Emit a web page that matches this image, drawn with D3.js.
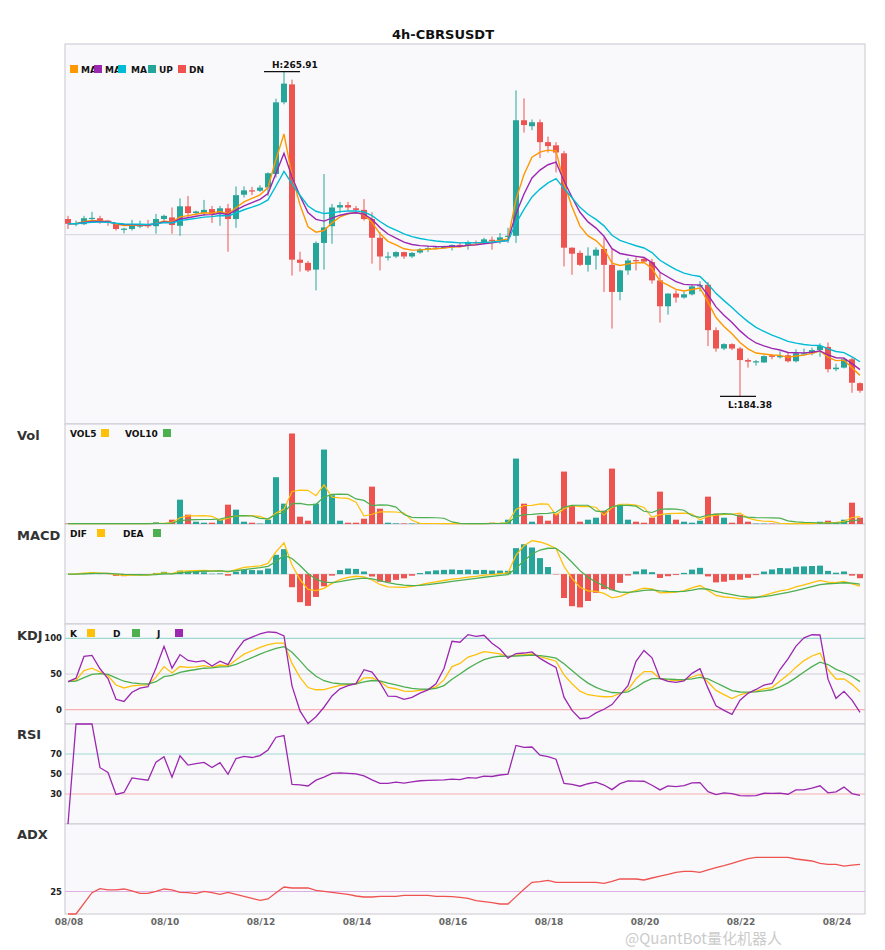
<!DOCTYPE html>
<html><head><meta charset="utf-8">
<script src="https://cdn.jsdelivr.net/npm/d3@7"></script>
<style>body{margin:0;background:#fff}svg{font-family:"DejaVu Sans",sans-serif}</style>
</head><body><svg id="c" width="885" height="950"></svg>
<script>
const title = "4h-CBRSUSDT";
const open = [228.9,227.6,227.6,229.0,229.1,228.5,227.7,226.3,226.4,227.2,227.4,227.1,228.9,229.3,227.2,232.1,230.4,230.4,231.4,230.2,231.6,228.9,235.0,236.1,236.0,236.8,240.2,258.2,262.7,218.7,217.9,216.2,222.9,227.1,231.8,232.4,231.6,231.2,228.9,224.2,219.4,219.5,220.6,219.5,220.5,221.5,221.6,221.7,221.8,222.4,222.4,223.1,223.0,223.7,223.5,224.5,224.7,253.7,252.2,253.2,248.2,247.4,245.4,221.7,220.4,217.4,219.7,221.4,217.4,210.6,216.0,218.6,218.9,218.1,213.5,207.0,210.2,209.2,210.0,212.1,212.4,201.0,196.4,197.5,196.4,193.5,193.0,192.9,194.7,194.4,194.7,193.2,195.1,195.2,196.0,196.8,191.2,191.6,193.7,187.7];
const high = [229.7,228.5,229.7,230.7,229.7,228.7,227.9,226.7,228.7,228.5,228.7,230.2,230.0,231.8,234.1,234.7,231.0,233.7,232.2,232.2,232.7,237.1,237.1,237.0,237.4,240.6,259.1,265.91,263.9,220.7,218.4,223.3,240.2,232.7,233.2,233.2,232.2,233.9,230.6,225.6,220.6,220.8,220.7,220.6,221.6,222.2,222.1,222.2,222.5,223.1,223.5,223.5,224.2,224.5,225.4,226.7,261.2,259.2,253.9,253.9,249.6,248.2,246.0,221.8,221.0,221.8,221.8,224.3,221.4,216.2,219.1,219.6,219.4,218.9,215.4,210.2,211.0,210.7,212.5,213.3,213.1,201.7,197.7,197.7,196.8,193.9,193.5,194.7,195.0,195.7,195.4,196.2,196.4,196.6,197.7,197.9,192.6,194.1,194.1,187.9];
const low = [226.4,227.1,227.4,228.5,227.7,227.2,226.0,225.3,226.0,226.6,226.6,225.2,228.5,225.2,224.7,229.3,230.0,229.7,227.9,227.2,220.7,226.7,234.3,234.9,235.7,234.7,239.3,257.7,214.7,215.7,215.6,211.0,216.2,222.7,230.4,231.0,230.6,228.5,217.7,216.0,218.5,219.1,218.9,219.1,220.2,220.6,221.2,221.5,221.0,221.8,221.2,222.4,222.7,221.2,222.7,222.9,222.9,250.6,251.2,244.2,245.6,240.6,217.0,214.9,217.1,215.7,216.2,210.6,201.4,208.5,214.9,216.0,218.1,212.7,202.9,204.9,207.9,208.9,209.7,210.7,197.0,195.6,196.0,196.0,184.38,191.6,192.1,192.8,193.7,193.9,192.9,192.9,194.7,194.7,194.3,190.4,190.7,191.4,185.3,185.3];
const close = [227.7,227.9,229.1,229.2,228.2,228.0,226.4,226.5,227.4,227.3,227.2,228.9,229.7,227.4,232.1,230.4,230.8,231.2,230.2,231.6,228.9,234.9,236.1,235.8,236.8,240.4,258.2,262.9,218.7,217.9,216.0,222.9,226.8,231.8,232.4,231.8,231.2,228.9,224.2,219.5,219.5,220.6,219.5,220.4,221.3,221.6,221.7,221.9,222.4,222.0,223.1,222.8,223.8,223.6,224.3,224.7,253.7,252.5,253.2,248.2,247.2,245.6,221.7,220.2,217.4,219.7,221.2,217.4,210.6,216.0,218.5,218.4,218.2,213.5,207.0,210.2,209.2,210.0,212.0,212.3,201.0,196.4,197.5,196.4,193.5,193.1,193.2,194.5,194.3,194.5,193.2,195.2,195.2,196.0,197.0,191.2,191.6,193.7,187.8,185.8];
const volume = [0.4,0.3,0.5,0.3,0.4,0.3,0.5,0.3,0.4,0.3,0.3,1.7,0.6,4.3,24.3,9.3,2.3,1.3,1.3,4.3,19.3,14.3,2.3,1.3,0.4,4.3,46.7,20.3,90.3,7.3,3.3,20.3,74.3,28.7,3.3,1.3,1.3,5.3,37.3,15.3,1.3,0.6,0.5,0.5,0.6,0.4,0.4,0.3,0.5,0.4,0.4,0.3,0.5,1.3,1.0,4.3,65.3,20.3,2.3,8.3,3.3,10.3,52.3,18.3,2.3,4.3,6.3,13.3,55.3,19.3,4.3,2.3,1.3,6.3,32.3,9.3,4.3,2.3,1.3,3.3,27.3,10.3,6.3,1.3,9.3,2.3,0.4,0.4,0.4,0.3,0.4,0.4,0.4,0.5,2.3,3.3,1.3,4.3,21.3,6.3];
const adx = [0,0,11.9,23.7,28.1,26.7,26.7,27.8,25.6,23.0,23.0,25.2,27.8,26.7,24.1,23.7,22.6,25.2,23.7,21.9,24.1,21.9,19.6,17.4,15.2,16.7,23.7,30.0,28.9,28.9,28.9,26.3,25.2,24.1,23.0,21.9,20.0,18.9,18.9,19.6,19.6,19.6,20.7,20.7,20.7,20.7,19.6,19.6,19.3,18.5,17.4,14.8,13.7,12.6,11.1,11.1,19.3,27.4,35.2,35.9,37.4,35.2,35.2,35.2,35.2,35.2,35.2,34.1,36.3,38.9,38.9,38.9,37.8,40.0,42.2,44.1,46.3,47.4,47.4,46.3,48.9,51.5,53.7,56.3,58.9,61.5,63.0,63.0,63.0,63.0,63.0,61.1,60.0,58.9,56.3,55.2,55.2,53.3,54.4,55.2];
const xTickLabels = ["08/08","08/10","08/12","08/14","08/16","08/18","08/20","08/22","08/24"];
const priceRefLevels = [225];
const kdjLevels = [100,50,0];
const rsiLevels = [70,50,30];
const adxLevels = [25];
const maPeriods = [5,8,13];
const volPeriods = [5,10];
const macdParams = [6,13,5];

const UP="#26a69a", DN="#ef5350";
const n = close.length;
const svg = d3.select("#c");
const L=65, R=865;
const panels = {main:[44,424], vol:[424,524], macd:[524,624], kdj:[624,724], rsi:[724,824], adx:[824,914]};

function ema(a, p){const k=2/(p+1); const o=[]; a.forEach((v,i)=>o.push(i===0?v:o[i-1]+k*(v-o[i-1]))); return o;}
function sma(a,p){return a.map((v,i)=>d3.mean(a.slice(Math.max(0,i-p+1),i+1)));}
const maLines = maPeriods.map(p=>ema(close,p));
const volLines = volPeriods.map(p=>sma(volume,p));
const eF=ema(close,macdParams[0]), eS=ema(close,macdParams[1]);
const dif = eF.map((v,i)=>v-eS[i]);
const dea = ema(dif,macdParams[2]);
const hist = dif.map((v,i)=>2*(v-dea[i]));
const K=[],D=[],J=[];
for(let i=0;i<n;i++){
  const s=Math.max(0,i-8);
  const ll=d3.min(low.slice(s,i+1)), hh=d3.max(high.slice(s,i+1));
  const rsv = hh>ll?(close[i]-ll)/(hh-ll)*100:50;
  K.push(i===0?rsv:K[i-1]*2/3+rsv/3);
  D.push(i===0?K[0]:D[i-1]*2/3+K[i]/3);
  J.push(3*K[i]-2*D[i]);
}
const rsi=[0];
{let ng=0,nl=0,den=0;const a=1/14;
 for(let i=1;i<n;i++){const d=close[i]-close[i-1];
  ng=Math.max(d,0)+(1-a)*ng; nl=Math.max(-d,0)+(1-a)*nl; den=1+(1-a)*den;
  const g=ng/den,l=nl/den; rsi.push(g+l>0?100*g/(g+l):50);}
}

const x = d3.scaleBand().domain(d3.range(n)).range([64,864]).paddingInner(0.25).paddingOuter(0.125);
const cx = i=>x(i)+x.bandwidth()/2;
const idx=d3.range(n);

svg.append("text").attr("x",443).attr("y",39).attr("text-anchor","middle").attr("font-size",13).attr("font-weight","bold").attr("fill","#111").text(title);

Object.values(panels).forEach(([t,b])=>{
  svg.append("rect").attr("x",L).attr("y",t).attr("width",R-L).attr("height",b-t).attr("fill","#f9f9fc").attr("stroke","#c8c8d0").attr("stroke-width",1);
});

[["Vol",440],["MACD",540],["KDJ",640],["RSI",739],["ADX",839]].forEach(([t,yy])=>{
  svg.append("text").attr("x",17).attr("y",yy).attr("font-size",13).attr("font-weight","bold").attr("fill","#333").text(t);
});

// main
const lo=d3.min(low), hi=d3.max(high), pad=(hi-lo)*0.085;
const y = d3.scaleLinear().domain([lo-pad,hi+pad]).range([424,44]);
const gm = svg.append("g");
priceRefLevels.forEach(v=>gm.append("line").attr("x1",L).attr("x2",R).attr("y1",y(v)).attr("y2",y(v)).attr("stroke","#dcdce0").attr("stroke-width",1.2));
gm.selectAll(".wick").data(idx).join("line").attr("x1",cx).attr("x2",cx)
  .attr("y1",i=>y(high[i])).attr("y2",i=>y(low[i])).attr("stroke",i=>close[i]>=open[i]?UP:DN).attr("stroke-width",1);
gm.selectAll(".body").data(idx).join("rect").attr("x",i=>x(i)).attr("width",x.bandwidth())
  .attr("y",i=>y(Math.max(open[i],close[i]))).attr("height",i=>Math.max(1.2,Math.abs(y(open[i])-y(close[i]))))
  .attr("fill",i=>close[i]>=open[i]?UP:DN);
const maColors=["#ff9800","#9c27b0","#00bcd4"];
maLines.forEach((arr,k)=>{
  gm.append("path").datum(arr).attr("fill","none").attr("stroke",maColors[k]).attr("stroke-width",1.4)
    .attr("d",d3.line().x((d,i)=>cx(i)).y(d=>y(d)));
});
const hiI=high.indexOf(hi), loI=low.indexOf(lo);
gm.append("line").attr("x1",cx(hiI)-20).attr("x2",cx(hiI)+16).attr("y1",y(hi)).attr("y2",y(hi)).attr("stroke","#111").attr("stroke-width",1.2);
gm.append("text").attr("x",cx(hiI)-12).attr("y",y(hi)-4).attr("font-size",9).attr("font-weight","bold").attr("fill","#111").text("H:"+hi.toFixed(2));
gm.append("line").attr("x1",cx(loI)-20).attr("x2",cx(loI)+16).attr("y1",y(lo)).attr("y2",y(lo)).attr("stroke","#111").attr("stroke-width",1.2);
gm.append("text").attr("x",cx(loI)-12).attr("y",y(lo)+12).attr("font-size",9).attr("font-weight","bold").attr("fill","#111").text("L:"+lo.toFixed(2));
const mainLeg=[["MA",maColors[0],70,81],["MA",maColors[1],94,105],["MA",maColors[2],118,131],["UP",UP,148,159],["DN",DN,178,189]];
mainLeg.forEach(([t,c,sx,tx])=>{
  gm.append("text").attr("x",tx).attr("y",72.5).attr("font-size",9).attr("font-weight","bold").attr("fill","#111").text(t);
  gm.append("rect").attr("x",sx).attr("y",65).attr("width",8).attr("height",8).attr("fill",c);
});

function legend(items, yText){
  items.forEach(([t,c,tx,sx])=>{
    svg.append("text").attr("x",tx).attr("y",yText).attr("font-size",9).attr("font-weight","bold").attr("fill","#111").text(t);
    svg.append("rect").attr("x",sx).attr("y",yText-8).attr("width",8).attr("height",8).attr("fill",c);
  });
}

// volume
const yv=d3.scaleLinear().domain([0,d3.max(volume)*1.105]).range([524,424]);
svg.append("g").selectAll("rect").data(idx).join("rect").attr("x",i=>x(i)).attr("width",x.bandwidth())
  .attr("y",i=>yv(volume[i])).attr("height",i=>524-yv(volume[i])).attr("fill",i=>close[i]>=open[i]?UP:DN);
const volColors=["#ffc107","#4caf50"];
volLines.forEach((arr,k)=>svg.append("path").datum(arr).attr("fill","none").attr("stroke",volColors[k]).attr("stroke-width",1.2)
  .attr("d",d3.line().x((d,i)=>cx(i)).y(d=>yv(d))));
legend([["VOL5",volColors[0],70,101],["VOL10",volColors[1],125,163]],437);

// MACD
const allM=dif.concat(dea,hist);
const ym=d3.scaleLinear().domain([d3.min(allM)*1.5,d3.max(allM)*1.5]).range([624,524]);
svg.append("line").attr("x1",L).attr("x2",R).attr("y1",ym(0)).attr("y2",ym(0)).attr("stroke","#d8d8dc").attr("stroke-width",1);
svg.append("g").selectAll("rect").data(idx).join("rect").attr("x",i=>x(i)).attr("width",x.bandwidth())
  .attr("y",i=>Math.min(ym(0),ym(hist[i]))).attr("height",i=>Math.abs(ym(hist[i])-ym(0)))
  .attr("fill",i=>hist[i]>=0?UP:DN);
[[dif,"#ffc107"],[dea,"#4caf50"]].forEach(([arr,c])=>svg.append("path").datum(arr).attr("fill","none").attr("stroke",c).attr("stroke-width",1.3)
  .attr("d",d3.line().x((d,i)=>cx(i)).y(d=>ym(d))));
legend([["DIF","#ffc107",70,97],["DEA","#4caf50",123,153]],537);

// KDJ
const yk=d3.scaleLinear().domain([-20,120]).range([724,624]);
const lvlColor={100:"#9fd8d2",70:"#9fd8d2",50:"#cfcfd4",0:"#f6b0ae",30:"#f6b0ae",25:"#dcb0e4"};
function levels(levs, sc){
  levs.forEach(v=>{
    svg.append("line").attr("x1",L).attr("x2",R).attr("y1",sc(v)).attr("y2",sc(v)).attr("stroke",lvlColor[v]).attr("stroke-width",1.2);
    svg.append("text").attr("x",62).attr("y",sc(v)+3).attr("text-anchor","end").attr("font-size",8.5).attr("font-weight","bold").attr("fill","#222").text(v);
  });
}
levels(kdjLevels,yk);
[[K,"#ffc107"],[D,"#4caf50"],[J,"#9c27b0"]].forEach(([arr,c])=>svg.append("path").datum(arr).attr("fill","none").attr("stroke",c).attr("stroke-width",1.3)
  .attr("d",d3.line().x((d,i)=>cx(i)).y(d=>yk(d))));
legend([["K","#ffc107",70,87],["D","#4caf50",113,132],["J","#9c27b0",157,175]],637);

// RSI
const yr=d3.scaleLinear().domain([0,100]).range([824,724]);
levels(rsiLevels,yr);
svg.append("path").datum(rsi).attr("fill","none").attr("stroke","#9c27b0").attr("stroke-width",1.3)
  .attr("d",d3.line().x((d,i)=>cx(i)).y(d=>yr(d)));

// ADX
const ya=d3.scaleLinear().domain([0,100]).range([914,824]);
levels(adxLevels,ya);
svg.append("path").datum(adx).attr("fill","none").attr("stroke","#ef5350").attr("stroke-width",1.3)
  .attr("d",d3.line().x((d,i)=>cx(i)).y(d=>ya(d)));

// x labels
xTickLabels.forEach((t,k)=>{
  svg.append("text").attr("x",cx(k*12)+1).attr("y",925).attr("text-anchor","middle").attr("font-size",9).attr("font-weight","bold").attr("fill","#666").text(t);
});

// watermark (kept just below the axis labels)
svg.append("text").attr("x",625).attr("y",944).attr("font-size",15).attr("fill","#b0b0b0").attr("opacity",0.65).attr("font-family","'Noto Sans CJK SC','DejaVu Sans',sans-serif").text("@QuantBot量化机器人");
</script></body></html>
